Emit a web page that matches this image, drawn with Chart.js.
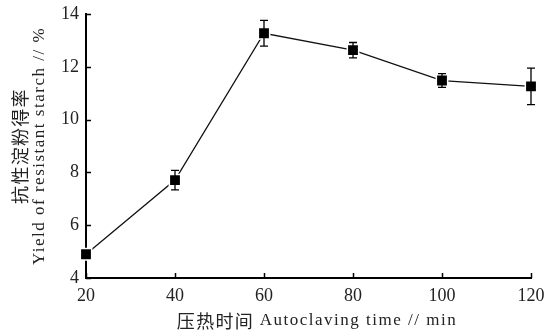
<!DOCTYPE html>
<html>
<head>
<meta charset="utf-8">
<script src="https://cdn.jsdelivr.net/npm/chart.js@4"></script>
<style>
html,body{margin:0;padding:0;background:#fff;}
#wrap{width:545px;height:333px;}
</style>
</head>
<body>
<div id="wrap"><canvas id="c" width="545" height="333"></canvas></div>
<script>
// ---- data ----
const autoclavingTimes = [20, 40, 60, 80, 100, 120];
const yieldValues = [4.90, 7.71, 13.27, 12.63, 11.48, 11.26];
const errorValues = [0.10, 0.37, 0.49, 0.29, 0.26, 0.69];
const xTickValues = [20, 40, 60, 80, 100, 120];
const yTickValues = [4, 6, 8, 10, 12, 14];
const xTitleText = "压热时间 Autoclaving time // min";
const yTitleLines = ["抗性淀粉得率", "Yield of resistant starch // %"];

const CJK_FONT = "'Noto Sans CJK SC'";
const LAT_FONT = "'Liberation Serif'";
const CJK_SIZE = 18, LAT_SIZE = 17;

function segments(text) {
  const segs = [];
  const re = /[\u3000-\u9fff\uff00-\uffef]/;
  for (const ch of text) {
    const isCjk = re.test(ch);
    if (segs.length && segs[segs.length - 1].cjk === isCjk) segs[segs.length - 1].t += ch;
    else segs.push({ t: ch, cjk: isCjk });
  }
  return segs;
}
function setFont(ctx, seg) {
  if (seg.cjk) { ctx.font = `${CJK_SIZE}px ${CJK_FONT}`; ctx.letterSpacing = '1.3px'; }
  else { ctx.font = `${LAT_SIZE}px ${LAT_FONT}`; ctx.letterSpacing = '1.5px'; }
}
function drawMixed(ctx, text, cx, cy) {
  const segs = segments(text);
  let total = 0;
  for (const s of segs) { setFont(ctx, s); s.w = ctx.measureText(s.t).width; total += s.w; }
  let x = cx - total / 2;
  ctx.textBaseline = 'middle';
  ctx.textAlign = 'left';
  for (const s of segs) { setFont(ctx, s); ctx.fillText(s.t, x, cy); x += s.w; }
  ctx.letterSpacing = '0px';
}

const decorPlugin = {
  id: 'decor',
  afterDatasetsDraw(chart) {
    const { ctx, scales: { x, y } } = chart;
    ctx.save();
    ctx.strokeStyle = '#000';
    ctx.lineWidth = 1.3;
    autoclavingTimes.forEach((t, i) => {
      const px = x.getPixelForValue(t);
      const top = y.getPixelForValue(yieldValues[i] + errorValues[i]);
      const bot = y.getPixelForValue(yieldValues[i] - errorValues[i]);
      ctx.beginPath();
      ctx.moveTo(px, top); ctx.lineTo(px, bot);
      ctx.moveTo(px - 4, top); ctx.lineTo(px + 4, top);
      ctx.moveTo(px - 4, bot); ctx.lineTo(px + 4, bot);
      ctx.stroke();
    });
    ctx.restore();
  },
  afterDraw(chart) {
    const { ctx, chartArea, scales: { x, y } } = chart;
    ctx.save();
    ctx.strokeStyle = '#000';
    ctx.lineWidth = 1.5;
    ctx.beginPath();
    xTickValues.forEach(v => {
      const px = Math.round(x.getPixelForValue(v)) + 0.5;
      ctx.moveTo(px, chartArea.bottom); ctx.lineTo(px, chartArea.bottom - 5);
    });
    yTickValues.forEach(v => {
      const py = Math.round(y.getPixelForValue(v)) + 0.5;
      ctx.moveTo(chartArea.left, py); ctx.lineTo(chartArea.left + 5, py);
    });
    ctx.stroke();
    ctx.fillStyle = '#222';
    // x title
    drawMixed(ctx, xTitleText, 317, 321);
    // y title (rotated)
    const cy = (chartArea.top + chartArea.bottom) / 2;
    [20, 40].forEach((cx, i) => {
      ctx.save();
      ctx.translate(cx, cy);
      ctx.rotate(-Math.PI / 2);
      drawMixed(ctx, yTitleLines[i], 0, 0);
      ctx.restore();
    });
    ctx.restore();
  }
};

new Chart(document.getElementById('c'), {
  type: 'line',
  data: {
    datasets: [{
      data: autoclavingTimes.map((t, i) => ({ x: t, y: yieldValues[i] })),
      borderColor: '#111',
      borderWidth: 1.3,
      backgroundColor: '#000',
      pointStyle: 'rect',
      pointRadius: 8,
      pointHoverRadius: 8,
      pointBackgroundColor: '#000',
      pointBorderColor: '#fff',
      pointBorderWidth: 1.5,
      tension: 0,
      clip: false
    }]
  },
  options: {
    responsive: false,
    animation: false,
    events: [],
    layout: { padding: { top: 14, right: 14, left: 0, bottom: 0 } },
    plugins: { legend: { display: false }, tooltip: { enabled: false } },
    scales: {
      x: {
        type: 'linear',
        min: 20, max: 120,
        afterBuildTicks: s => { s.ticks = xTickValues.map(v => ({ value: v })); },
        afterFit: s => { s.height = 55; s.paddingLeft = 0; s.paddingRight = 0; },
        grid: { display: false, drawTicks: false },
        border: { display: true, color: '#000', width: 2 },
        ticks: { color: '#222', padding: 7, font: { family: "'Liberation Serif'", size: 18 }, maxRotation: 0 }
      },
      y: {
        type: 'linear',
        min: 4, max: 14,
        afterBuildTicks: s => { s.ticks = yTickValues.map(v => ({ value: v })); },
        afterFit: s => { s.width = 86; s.paddingTop = 0; s.paddingBottom = 0; },
        grid: { display: false, drawTicks: false },
        border: { display: true, color: '#000', width: 2 },
        ticks: { color: '#222', padding: 7, font: { family: "'Liberation Serif'", size: 18 } }
      }
    }
  },
  plugins: [decorPlugin]
});
</script>
</body>
</html>
